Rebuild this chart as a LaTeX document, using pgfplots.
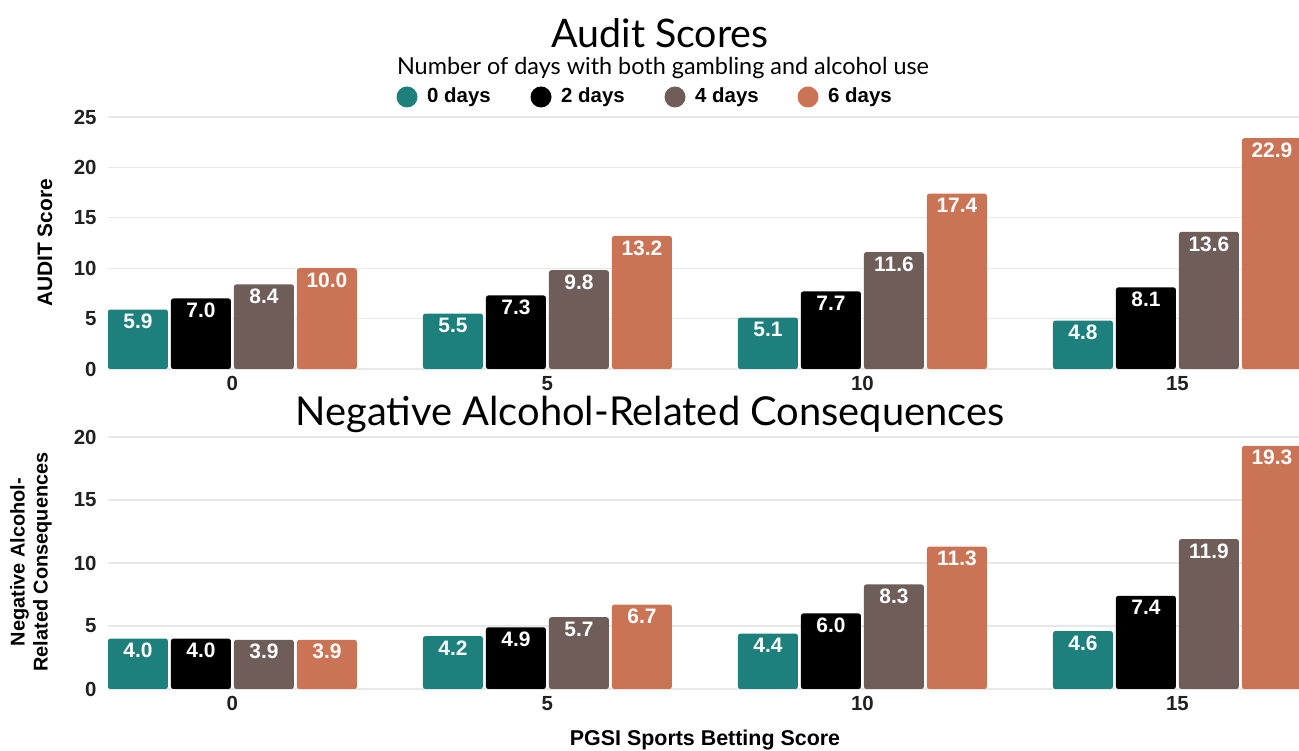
\documentclass[border=0pt]{standalone}
\usepackage{fontspec}
\setmainfont{Liberation Sans}
\newfontfamily\titlefont{Lato}
\usepackage{pgfplots}
\pgfplotsset{compat=1.18}
\definecolor{cteal}{HTML}{1E807C}
\definecolor{cblack}{HTML}{000000}
\definecolor{cbrown}{HTML}{6F5D59}
\definecolor{corange}{HTML}{CB7455}
\definecolor{gridc}{HTML}{E8E8E8}
\pgfplotsset{
 mystyle/.style={
  scale only axis, width=1191bp, height=252bp,
  xmin=-0.395, xmax=3.386, ymin=0,
  ybar=3bp, bar width=60bp,
  axis line style={draw=none}, tick style={draw=none},
  xtick={0,1,2,3}, xticklabels={0,5,10,15},
  ymajorgrids, grid style={gridc, line width=1.2bp},
  /pgf/number format/assume math mode=true,
  ticklabel style={font=\bfseries\fontsize{20.5}{22}\selectfont, text=black!87},
  xticklabel style={inner sep=1bp, yshift=-2bp},
  yticklabel style={xshift=-8bp},
  nodes near coords={\pgfmathprintnumber[fixed,fixed zerofill,precision=1]{\pgfplotspointmeta}},
  every node near coord/.append style={anchor=north, text=white, font=\bfseries\fontsize{21}{22}\selectfont, yshift=-1bp},
  clip=true,
 },
 b1/.style={fill=cteal, draw=none, rounded corners=2.5bp},
 b2/.style={fill=cblack, draw=none, rounded corners=2.5bp},
 b3/.style={fill=cbrown, draw=none, rounded corners=2.5bp},
 b4/.style={fill=corange, draw=none, rounded corners=2.5bp},
}
\begin{document}
\begin{tikzpicture}
\useasboundingbox (0,0) rectangle (1299bp,751bp);
% titles
\node[inner sep=0pt, font=\titlefont\fontsize{39.5}{44}\selectfont] at (660bp,718bp) {Audit Scores};
\node[inner sep=0pt, font=\titlefont\fontsize{23.5}{26}\selectfont] at (663bp,683bp) {Number of days with both gambling and alcohol use};
\node[inner sep=0pt, font=\titlefont\fontsize{40}{44}\selectfont] at (650bp,337bp) {Negative Alcohol-Related Consequences};
% legend
\foreach \cx/\c/\t in {407/cteal/0 days, 541/cblack/2 days, 675/cbrown/4 days, 808/corange/6 days}{
  \fill[\c] (\cx bp,654bp) circle (10.5bp);
  \node[anchor=west, font=\bfseries\fontsize{20.5}{22}\selectfont, inner sep=0pt] at (\cx bp+20bp,654bp) {\t};
}
% axis labels
\node[rotate=90, font=\bfseries\fontsize{21}{23}\selectfont] at (45bp,508bp) {AUDIT Score};
\node[rotate=90, align=center, font=\bfseries\fontsize{20}{23}\selectfont] at (31bp,189bp) {Negative Alcohol-\\Related Consequences};
\node[font=\bfseries\fontsize{21.5}{23}\selectfont] at (705bp,11bp) {PGSI Sports Betting Score};

\begin{axis}[mystyle, at={(108bp,382bp)}, anchor=south west, ymax=25, ytick={0,5,...,25}]
\addplot[b1] coordinates {(0,5.9) (1,5.5) (2,5.1) (3,4.8)};
\addplot[b2] coordinates {(0,7.0) (1,7.3) (2,7.7) (3,8.1)};
\addplot[b3] coordinates {(0,8.4) (1,9.8) (2,11.6) (3,13.6)};
\addplot[b4] coordinates {(0,10.0) (1,13.2) (2,17.4) (3,22.9)};
\end{axis}

\begin{axis}[mystyle, at={(108bp,62bp)}, anchor=south west, ymax=20, ytick={0,5,...,20}]
\addplot[b1] coordinates {(0,4.0) (1,4.2) (2,4.4) (3,4.6)};
\addplot[b2] coordinates {(0,4.0) (1,4.9) (2,6.0) (3,7.4)};
\addplot[b3] coordinates {(0,3.9) (1,5.7) (2,8.3) (3,11.9)};
\addplot[b4] coordinates {(0,3.9) (1,6.7) (2,11.3) (3,19.3)};
\end{axis}
\end{tikzpicture}
\end{document}
